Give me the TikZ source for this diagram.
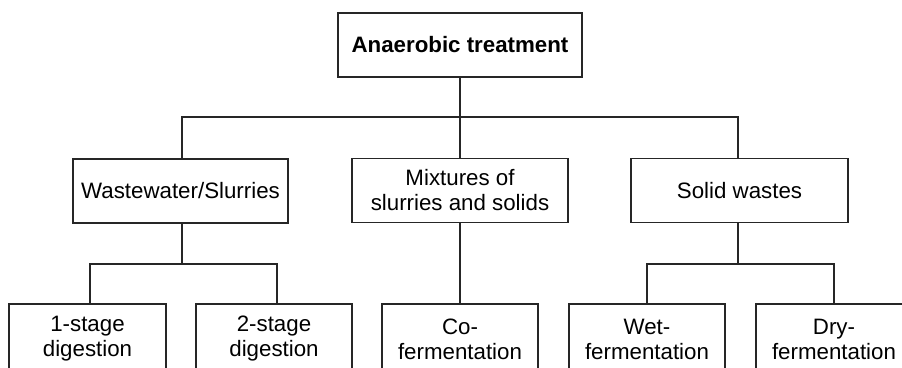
\documentclass[tikz,border=0pt]{standalone}
\usepackage{fontspec}
\setmainfont{Liberation Sans}
\begin{document}
\begin{tikzpicture}[x=1pt,y=-1pt,
  box/.style={draw=black!85,line width=1.4pt,fill=white,inner sep=0pt,align=center,
    font=\fontsize{22.3}{25}\selectfont},
  link/.style={draw=black!85,line width=1.4pt}]
\useasboundingbox (0,0) rectangle (902,367);
\clip (0,0) rectangle (902,367);
% root
\node[box,minimum width=244pt,minimum height=64pt,font=\fontsize{22.3}{25}\selectfont\bfseries]
  (root) at (460,45) {Anaerobic treatment};
% second level
\node[box,minimum width=215pt,minimum height=64pt] (ww) at (180.5,191) {Wastewater/Slurries};
\node[box,minimum width=216pt,minimum height=64pt] (mix) at (460,190.5) {Mixtures of\\slurries and solids};
\node[box,minimum width=217pt,minimum height=64pt] (sol) at (739.5,190.5) {Solid wastes};
% third level (boxes run past the lower edge)
\node[box,minimum width=157pt,minimum height=70pt] (s1) at (87.5,339) {1-stage\\digestion};
\node[box,minimum width=156pt,minimum height=70pt] (s2) at (274,339) {2-stage\\digestion};
\node[box,minimum width=156pt,minimum height=70pt] (co) at (460,339) {Co-\\fermentation};
\node[box,minimum width=156pt,minimum height=70pt] (wet) at (647,339) {Wet-\\fermentation};
\node[box,minimum width=156pt,minimum height=70pt] (dry) at (834,339) {Dry-\\fermentation};
% connectors
\coordinate (j1) at (460,117);
\draw[link] (root.south) -- (j1);
\draw[link] (ww.north -| 182,0) |- (j1) -| (sol.north -| 738,0);
\draw[link] (j1) -- (mix.north);
\coordinate (j2) at (182,264);
\draw[link] (ww.south -| j2) -- (j2);
\draw[link] (s1.north -| 90,0) |- (j2) -| (s2.north -| 277,0);
\draw[link] (mix.south) -- (co.north);
\coordinate (j3) at (738,264);
\draw[link] (sol.south -| j3) -- (j3);
\draw[link] (wet.north) |- (j3) -| (dry.north);
\end{tikzpicture}
\end{document}
